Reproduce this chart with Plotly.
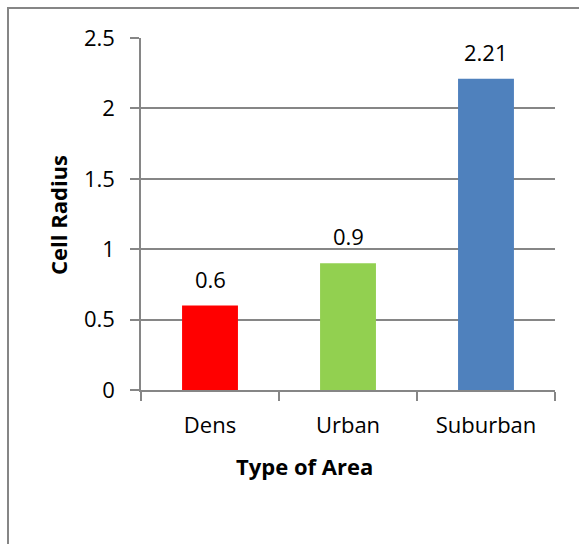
import plotly.graph_objects as go

categories = ["Dens", "Urban", "Suburban"]
values = [0.6, 0.9, 2.21]
colors = ["#FF0000", "#92D050", "#4F81BD"]
value_labels = ["0.6", "0.9", "2.21"]
y_ticks = [0, 0.5, 1, 1.5, 2, 2.5]
y_tick_text = ["0", "0.5", "1", "1.5", "2", "2.5"]

W, H = 579, 544
L, R, T, B = 141, 24, 38, 154
pw, ph = W - L - R, H - T - B

def px_x(p):
    return (p - L) / pw

def px_y(p):
    return (H - B - p) / ph

FONT = "Open Sans"
FS = 22
GRAY = "#868686"

fig = go.Figure()
fig.add_trace(go.Bar(
    x=categories, y=values, marker=dict(color=colors, line=dict(width=0)),
    width=0.405, showlegend=False, hoverinfo="skip",
))

annotations = []
for c, v, t in zip(categories, values, value_labels):
    annotations.append(dict(x=c, y=v, xref="x", yref="y", text=t, showarrow=False,
                            yanchor="middle", yshift=27,
                            font=dict(family=FONT, size=FS, color="black")))
annotations.append(dict(x=px_x(304), y=px_y(466), xref="paper", yref="paper",
                        text="<b>Type of Area</b>", showarrow=False,
                        xanchor="center", yanchor="middle",
                        font=dict(family=FONT, size=FS, color="black")))
annotations.append(dict(x=px_x(58), y=px_y(215), xref="paper", yref="paper",
                        text="<b>Cell Radius</b>", showarrow=False, textangle=-90,
                        xanchor="center", yanchor="middle",
                        font=dict(family=FONT, size=FS, color="black")))

fig.update_layout(
    width=W, height=H,
    margin=dict(l=L, r=R, t=T, b=B, pad=0),
    paper_bgcolor="white", plot_bgcolor="white",
    font=dict(family=FONT, size=FS, color="black"),
    annotations=annotations,
    shapes=[dict(type="rect", xref="paper", yref="paper",
                 x0=px_x(8), y0=px_y(700), x1=px_x(700), y1=px_y(8),
                 line=dict(color=GRAY, width=2), layer="below")],
    xaxis=dict(
        type="category", showgrid=False, showline=True, linecolor=GRAY, linewidth=1.5,
        ticks="outside", tickson="boundaries", ticklen=9, tickcolor=GRAY, tickwidth=1.5,
        range=[-0.5, 2.5], fixedrange=True,
        tickfont=dict(family=FONT, size=FS, color="black"), ticklabelstandoff=15,
    ),
    yaxis=dict(
        range=[0, 2.5], tickvals=y_ticks, ticktext=y_tick_text,
        showgrid=True, gridcolor=GRAY, gridwidth=1.5,
        showline=True, linecolor=GRAY, linewidth=1.5, zeroline=False,
        ticks="outside", ticklen=9, tickcolor=GRAY, tickwidth=1.5,
        tickfont=dict(family=FONT, size=FS, color="black"), ticklabelstandoff=11,
    ),
)

fig.write_html("out.html")
